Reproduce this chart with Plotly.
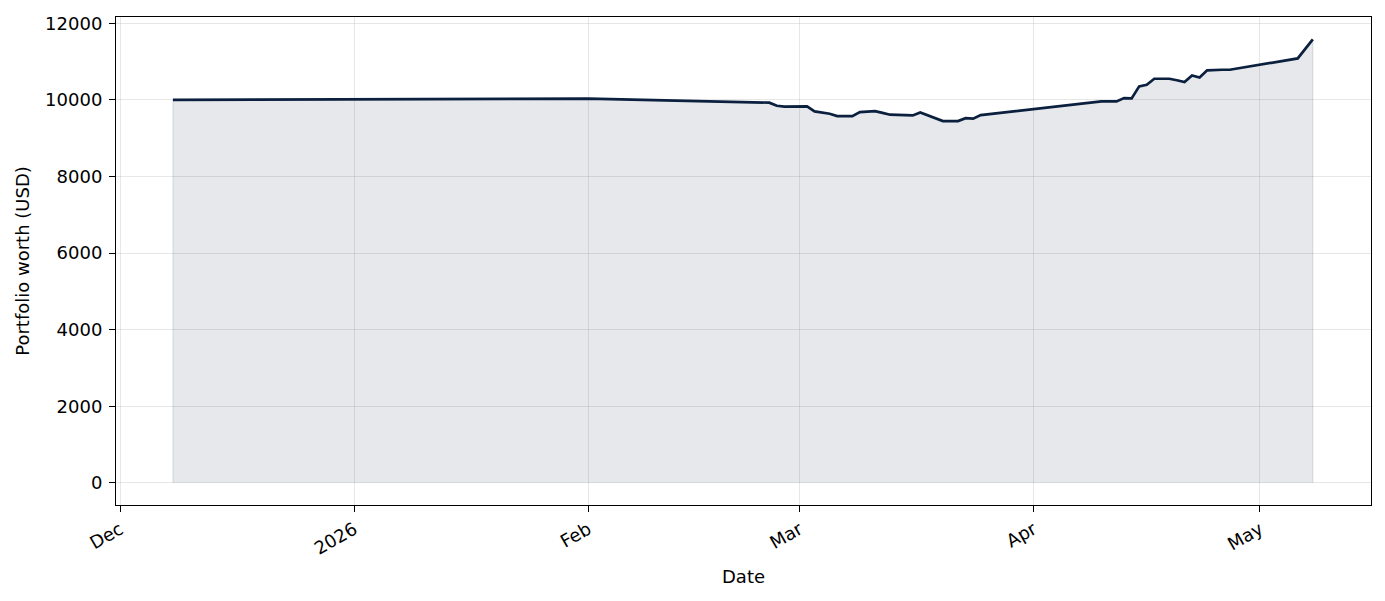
import plotly.graph_objects as go

# portfolio value (weekends carry the Friday value)
dates = [
    "2025-12-08", "2026-01-15", "2026-02-01", "2026-02-25", "2026-02-26",
    "2026-02-27", "2026-02-28", "2026-03-01", "2026-03-02", "2026-03-03",
    "2026-03-04", "2026-03-05", "2026-03-06", "2026-03-07", "2026-03-08",
    "2026-03-09", "2026-03-10", "2026-03-11", "2026-03-12", "2026-03-13",
    "2026-03-14", "2026-03-15", "2026-03-16", "2026-03-17", "2026-03-18",
    "2026-03-19", "2026-03-20", "2026-03-21", "2026-03-22", "2026-03-23",
    "2026-03-24", "2026-03-25", "2026-04-10", "2026-04-11", "2026-04-12",
    "2026-04-13", "2026-04-14", "2026-04-15", "2026-04-16", "2026-04-17",
    "2026-04-18", "2026-04-19", "2026-04-20", "2026-04-21", "2026-04-22",
    "2026-04-23", "2026-04-24", "2026-04-25", "2026-04-26", "2026-04-27",
    "2026-05-06", "2026-05-08",
]
worth = [
    10000, 10008, 10030, 9925, 9845,
    9820, 9820, 9820, 9828, 9697,
    9671, 9637, 9575, 9575, 9575,
    9679, 9690, 9705, 9660, 9611,
    9605, 9600, 9593, 9671, 9600,
    9520, 9444, 9444, 9444, 9522,
    9507, 9600, 9958, 9958, 9958,
    10044, 10035, 10350, 10394, 10550,
    10550, 10550, 10510, 10462, 10636,
    10584, 10770, 10785, 10785, 10785,
    11080, 11580,
]

tick_dates = ["2025-12-01", "2026-01-01", "2026-02-01", "2026-03-01", "2026-04-01", "2026-05-01"]
tick_labels = ["Dec", "2026", "Feb", "Mar", "Apr", "May"]
y_ticks = [0, 2000, 4000, 6000, 8000, 10000, 12000]

navy = "#0b1f3e"
font = "DejaVu Sans"

fig = go.Figure()

# shaded area, closed down to zero like fill_between
fig.add_trace(go.Scatter(
    x=[dates[0]] + dates + [dates[-1]],
    y=[0] + worth + [0],
    fill="toself",
    fillcolor="rgba(11,31,62,0.1)",
    line=dict(color="rgba(11,31,62,0.1)", width=1.3),
    mode="lines",
    hoverinfo="skip",
    showlegend=False,
))

fig.add_trace(go.Scatter(
    x=dates, y=worth,
    mode="lines",
    line=dict(color=navy, width=2.7),
    showlegend=False,
))

axis_style = dict(
    showline=True, linecolor="black", linewidth=1.1, mirror=True,
    ticks="outside", ticklen=6, tickwidth=1.1, tickcolor="black",
    showgrid=True, gridcolor="rgba(176,176,176,0.3)", gridwidth=1,
    zeroline=False, automargin=False,
    tickfont=dict(family=font, size=18, color="black"),
    title_font=dict(family=font, size=18, color="black"),
)

fig.update_xaxes(
    type="date",
    range=["2025-11-30 11:00", "2026-05-15 17:00"],
    tickvals=tick_dates, ticktext=tick_labels,
    tickangle=-30,
    title_text="Date", title_standoff=12,
    **axis_style,
)
fig.update_yaxes(
    range=[-579, 12162],
    tickvals=y_ticks, tickformat="d",
    ticklabelstandoff=3,
    title_text="Portfolio worth (USD)", title_standoff=10,
    **axis_style,
)

# the page body adds 8px on the left and top, so margins are shifted
fig.update_layout(
    width=1385, height=601,
    margin=dict(l=108, r=22, t=9, b=104),
    plot_bgcolor="white", paper_bgcolor="white",
    font=dict(family=font, size=18, color="black"),
)

fig.write_html("out.html")
